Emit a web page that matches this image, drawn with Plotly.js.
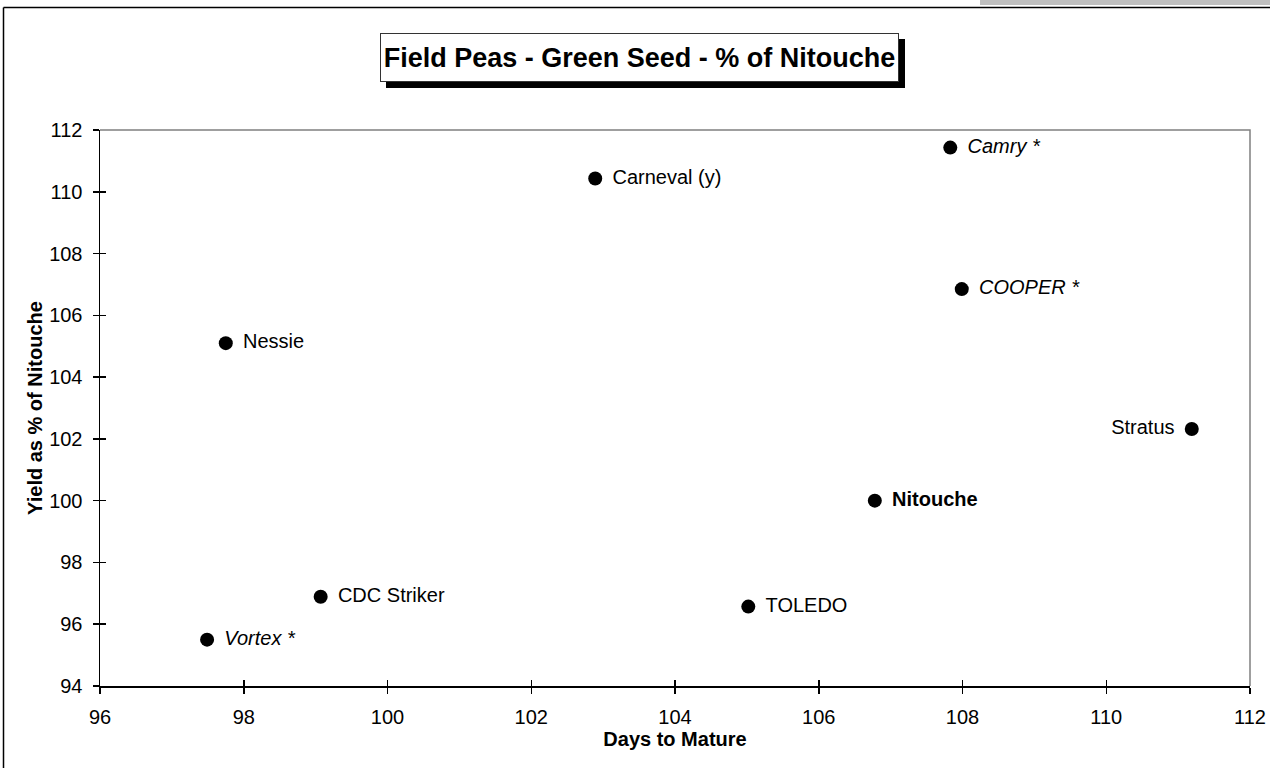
<!DOCTYPE html>
<html>
<head>
<meta charset="utf-8">
<script src="https://cdn.plot.ly/plotly-3.0.1.min.js"></script>
<style>
  html, body { margin: 0; padding: 0; background: #ffffff; }
  #chart { width: 1270px; height: 768px; }
</style>
</head>
<body>
<div id="chart"></div>
<script>
// ---- data ----
const varieties = ["Camry *", "Carneval (y)", "COOPER *", "Nessie", "Stratus", "Nitouche", "CDC Striker", "TOLEDO", "Vortex *"];
const daysToMature = [107.83, 102.89, 107.99, 97.75, 111.19, 106.78, 99.07, 105.02, 97.49];
const yieldPctNitouche = [111.43, 110.43, 106.85, 105.1, 102.32, 100.0, 96.89, 96.57, 95.5];
const italicVarieties = ["Camry *", "COOPER *", "Vortex *"];
const boldVarieties = ["Nitouche"];
const leftLabelVarieties = ["Stratus"];
const xTickValues = [96, 98, 100, 102, 104, 106, 108, 110, 112];
const yTickValues = [94, 96, 98, 100, 102, 104, 106, 108, 110, 112];
const chartTitle = "Field Peas - Green Seed - % of Nitouche";
const xTitle = "Days to Mature";
const yTitle = "Yield as % of Nitouche";

// ---- layout geometry ----
const W = 1270, H = 768;
const M = { l: 100, r: 20, t: 130, b: 82 };
const PW = W - M.l - M.r, PH = H - M.t - M.b;
const px = v => (v - M.l) / PW;          // pixel x -> paper x
const py = v => (H - M.b - v) / PH;      // pixel y -> paper y
const FONT = "Liberation Sans, Arial, Helvetica, sans-serif";

const labels = varieties.map(n => {
  if (italicVarieties.includes(n)) return "<i>" + n + "</i>";
  if (boldVarieties.includes(n)) return "<b>" + n + "</b>";
  return n;
});
const positions = varieties.map(n => leftLabelVarieties.includes(n) ? "middle left" : "middle right");

const traces = [
  {
    // visible markers
    type: "scatter",
    mode: "markers",
    x: daysToMature,
    y: yieldPctNitouche,
    marker: { size: 14, color: "#000000", symbol: "circle" },
    cliponaxis: false,
    hoverinfo: "skip",
    showlegend: false
  },
  {
    // labels, offset by a wider transparent marker
    type: "scatter",
    mode: "markers+text",
    x: daysToMature,
    y: yieldPctNitouche,
    text: labels,
    textposition: positions,
    textfont: { family: FONT, size: 20, color: "#000000" },
    marker: { size: 26, color: "rgba(0,0,0,0)" },
    cliponaxis: false,
    hoverinfo: "skip",
    showlegend: false
  },
  {
    type: "scatter", mode: "markers", x: [], y: [],
    xaxis: "x2", yaxis: "y2", hoverinfo: "skip", showlegend: false
  }
];

const tickCommon = {
  ticklen: 6, tickwidth: 1.5, tickcolor: "#000000",
  showgrid: false, zeroline: false, fixedrange: true
};

const layout = {
  width: W, height: H,
  margin: M,
  paper_bgcolor: "#ffffff",
  plot_bgcolor: "#ffffff",
  font: { family: FONT, size: 20, color: "#000000" },
  hovermode: false,
  showlegend: false,
  xaxis: Object.assign({}, tickCommon, {
    range: [96, 112], tickvals: xTickValues, ticktext: xTickValues.map(String),
    ticks: "outside", showline: true, linecolor: "#000000", linewidth: 1.5,
    tickfont: { family: FONT, size: 20, color: "#000000" },
    ticklabelstandoff: 6,
    title: { text: xTitle, font: { family: FONT, size: 20, color: "#000000", weight: "bold" }, standoff: 0 }
  }),
  yaxis: Object.assign({}, tickCommon, {
    range: [94, 112], tickvals: yTickValues, ticktext: yTickValues.map(String),
    ticks: "outside", showline: true, linecolor: "#000000", linewidth: 1.5,
    tickfont: { family: FONT, size: 20, color: "#000000" },
    ticklabelstandoff: 6,
    title: { text: yTitle, font: { family: FONT, size: 20, color: "#000000", weight: "bold" }, standoff: 1 }
  }),
  xaxis2: Object.assign({}, tickCommon, {
    range: [96, 112], tickvals: xTickValues, ticks: "inside", showticklabels: false,
    showline: false, overlaying: "x", anchor: "y2", side: "bottom"
  }),
  yaxis2: Object.assign({}, tickCommon, {
    range: [94, 112], tickvals: yTickValues, ticks: "inside", showticklabels: false,
    showline: false, overlaying: "y", anchor: "x2", side: "left"
  }),
  shapes: [
    // gray top & right plot border
    { type: "path", xref: "paper", yref: "paper",
      path: "M 0,1 L 1,1 L 1,0",
      line: { color: "#808080", width: 1.5 } },
    // outer chart frame (left & top edges)
    { type: "line", xref: "paper", yref: "paper",
      x0: px(3.5), x1: px(3.5), y0: py(7.5), y1: py(H + 2),
      line: { color: "#000000", width: 1.5 } },
    { type: "line", xref: "paper", yref: "paper",
      x0: px(3.5), x1: px(W + 2), y0: py(7.5), y1: py(7.5),
      line: { color: "#000000", width: 1.5 } },
    // gray band at top right
    { type: "rect", xref: "paper", yref: "paper",
      x0: px(980), x1: px(W + 2), y0: py(5), y1: py(-2),
      line: { width: 0 }, fillcolor: "#c0c0c0" },
    // title box drop shadow
    { type: "rect", xref: "paper", yref: "paper",
      x0: px(386), x1: px(905), y0: py(88), y1: py(39),
      line: { width: 0 }, fillcolor: "#000000" }
  ],
  annotations: [
    // title box
    { xref: "paper", yref: "paper", x: px(639.5), y: py(57.5),
      xanchor: "center", yanchor: "middle",
      text: "<b>" + chartTitle + "</b>", showarrow: false,
      font: { family: FONT, size: 27, color: "#000000" },
      bgcolor: "#ffffff", bordercolor: "#333333", borderwidth: 1,
      width: 517, height: 47, borderpad: 0 }
  ]
};

Plotly.newPlot("chart", traces, layout, { displayModeBar: false, staticPlot: true });
</script>
</body>
</html>
